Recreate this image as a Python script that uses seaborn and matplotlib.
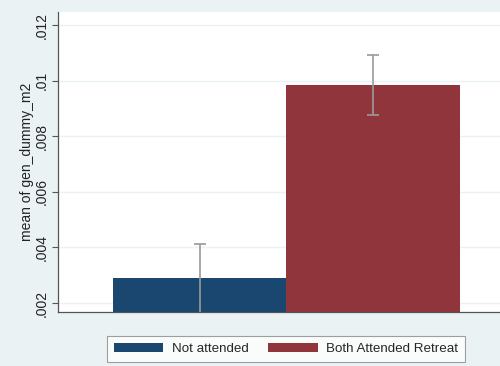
import pandas as pd
import matplotlib.pyplot as plt
import seaborn as sns
from matplotlib.patches import Patch
from matplotlib.ticker import FuncFormatter

# values
groups = ["Not attended", "Both Attended Retreat"]
means = [0.0029, 0.00986]
ci_low = [0.00160, 0.00875]
ci_high = [0.00414, 0.01092]
yticks = [0.002, 0.004, 0.006, 0.008, 0.010, 0.012]

colors = ["#1a476f", "#90353b"]
bg = "#eaf2f3"

df = pd.DataFrame({"group": groups, "mean": means})

sns.set_style("white")
plt.rcParams["font.family"] = ["Liberation Sans", "DejaVu Sans"]

fig = plt.figure(figsize=(5, 3.66), dpi=100, facecolor=bg)
ax = fig.add_axes([58 / 500, 1 - 312 / 366, 442 / 500, 300 / 366])
ax.set_facecolor("white")

sns.barplot(data=df, x="group", y="mean", hue="group", palette=colors,
            width=1.0, errorbar=None, legend=False, ax=ax, saturation=1)
for p in ax.patches:
    p.set_edgecolor("none")

err_lo = [m - lo for m, lo in zip(means, ci_low)]
err_hi = [hi - m for m, hi in zip(means, ci_high)]
ax.errorbar(range(len(groups)), means, yerr=[err_lo, err_hi], fmt="none",
            ecolor="#9a9a9a", elinewidth=1.2, capsize=4, capthick=1.2, zorder=3)

ax.set_xlim(-0.817, 1.731)
ax.set_ylim(0.00168, 0.01247)
ax.set_yticks(yticks)
ax.yaxis.set_major_formatter(FuncFormatter(lambda v, _: f"{v:.3f}".lstrip("0").rstrip("0")))
ax.set_xticks([])
ax.set_xlabel("")
ax.set_ylabel("mean of gen_dummy_m2", fontsize=10, color="#222222")
ax.yaxis.set_label_coords(-0.054, 0.5)
for lab in ax.get_yticklabels():
    lab.set_rotation(90)
    lab.set_va("center")
ax.tick_params(axis="y", direction="out", length=4, width=0.8, color="#555555",
               labelsize=10, labelcolor="#222222", pad=3, left=True)
ax.yaxis.grid(True, color=bg, linewidth=1.0)
ax.set_axisbelow(True)

for side in ["top", "right"]:
    ax.spines[side].set_visible(False)
for side in ["left", "bottom"]:
    ax.spines[side].set_color("#555555")
    ax.spines[side].set_linewidth(0.9)

handles = [Patch(facecolor=c, edgecolor="none", label=g) for c, g in zip(colors, groups)]
leg = fig.legend(handles=handles, loc="center", bbox_to_anchor=(286 / 500, 1 - 349 / 366),
                 ncol=2, frameon=True, fancybox=False, fontsize=9.6,
                 handlelength=3.7, handleheight=0.7, handletextpad=0.65,
                 columnspacing=1.5, borderpad=0.5, borderaxespad=0)
leg.get_frame().set_edgecolor("#888888")
leg.get_frame().set_linewidth(0.8)
leg.get_frame().set_facecolor("white")

fig.savefig("out.png", dpi=100, facecolor=bg)
